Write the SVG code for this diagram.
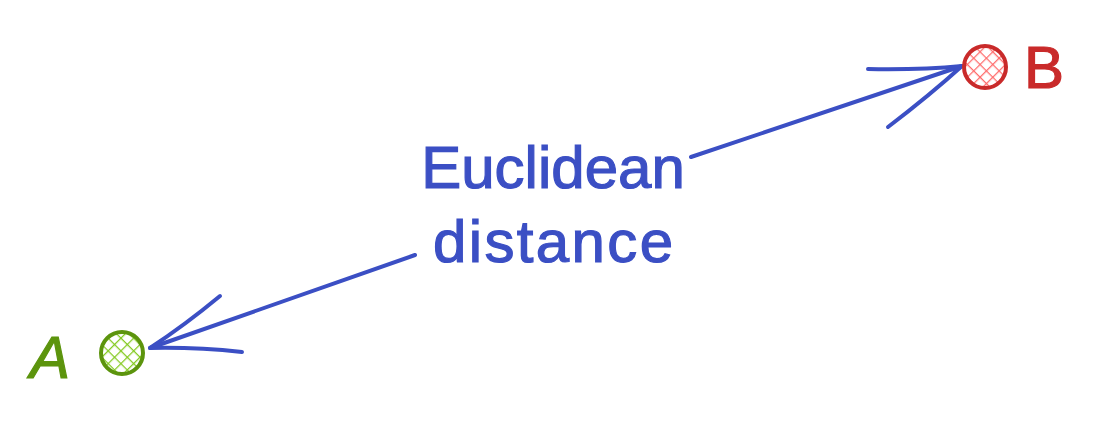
<svg xmlns="http://www.w3.org/2000/svg" width="1099" height="425" viewBox="0 0 1099 425">
<style>
.lbl{font-family:"Liberation Sans",Arial,sans-serif;font-size:60px;stroke-width:1.2;}
.conn{stroke:#3b4fc4;stroke-width:4;fill:none;stroke-linecap:round;stroke-linejoin:round;}
</style>
<defs>
<pattern id="hr" width="9" height="9" patternUnits="userSpaceOnUse" patternTransform="rotate(45)">
<line x1="0" y1="0" x2="0" y2="9" stroke="#ff6b6b" stroke-width="2.5"/>
<line x1="0" y1="0" x2="9" y2="0" stroke="#ff6b6b" stroke-width="2.5"/>
</pattern>
<pattern id="hg" width="9" height="9" patternUnits="userSpaceOnUse" patternTransform="rotate(45)">
<line x1="0" y1="0" x2="0" y2="9" stroke="#82c91e" stroke-width="2.5"/>
<line x1="0" y1="0" x2="9" y2="0" stroke="#82c91e" stroke-width="2.5"/>
</pattern>
</defs>
<rect width="1099" height="425" fill="#ffffff"/>
<g id="connectors">
<path class="conn" d="M691 157 L962 66"/>
<path class="conn" d="M868 69 Q920 70 962 66 M888 127 Q930 95 962 66"/>
<path class="conn" d="M415 255 L150 348"/>
<path class="conn" d="M220 296 Q185 325 150 348 M242 352 Q195 347 150 348"/>
</g>
<g id="nodeB">
<circle cx="985" cy="67" r="21" fill="url(#hr)" stroke="#c92a2a" stroke-width="4"/>
<text class="lbl" x="1024" y="88" fill="#c92a2a" stroke="#c92a2a">B</text>
</g>
<g id="nodeA">
<circle cx="122" cy="353" r="21" fill="url(#hg)" stroke="#5c940d" stroke-width="4"/>
<text class="lbl" x="30" y="378" fill="#5c940d" stroke="#5c940d" font-style="italic">A</text>
</g>
<g id="label">
<text class="lbl" x="553" y="188" text-anchor="middle" fill="#3b4fc4" stroke="#3b4fc4">Euclidean</text>
<text class="lbl" x="553" y="262" text-anchor="middle" fill="#3b4fc4" stroke="#3b4fc4" textLength="240">distance</text>
</g>
</svg>
